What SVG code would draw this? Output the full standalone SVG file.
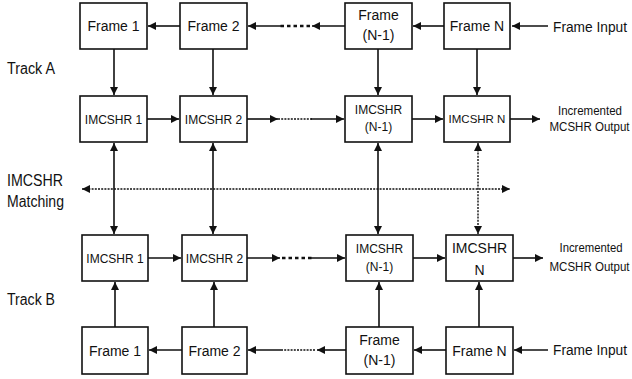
<svg xmlns="http://www.w3.org/2000/svg" width="632" height="379" viewBox="0 0 632 379">
<style>
text{font-family:"Liberation Sans",Arial,sans-serif;fill:#111;text-anchor:middle}
.box{fill:#fff;stroke:#111;stroke-width:1.6}
.f{font-size:14px}
.m{font-size:12px}
.s{font-size:11.5px}
.lab{font-size:16px;text-anchor:start}
.ln{stroke:#111;stroke-width:1.6;fill:none}
.dt{stroke:#111;stroke-width:1.4;fill:none;stroke-dasharray:2 1.2}
.bd{stroke:#111;stroke-width:2.6;fill:none;stroke-dasharray:3.5 3}
</style>
<defs>
<marker id="ah" viewBox="0 0 10 10" refX="10" refY="5" markerWidth="9" markerHeight="8" markerUnits="userSpaceOnUse" orient="auto-start-reverse">
<path d="M0,0 L10,5 L0,10 z" fill="#111"/>
</marker>
</defs>
<g id="labels">
<text class="lab" x="7" y="74" textLength="48" lengthAdjust="spacingAndGlyphs">Track A</text>
<text class="lab" x="7" y="186" textLength="56" lengthAdjust="spacingAndGlyphs">IMCSHR</text>
<text class="lab" x="7" y="207" textLength="57" lengthAdjust="spacingAndGlyphs">Matching</text>
<text class="lab" x="7" y="305" textLength="48" lengthAdjust="spacingAndGlyphs">Track B</text>
<text class="f" x="590" y="32" textLength="74" lengthAdjust="spacingAndGlyphs">Frame Input</text>
<text class="m" x="590" y="115" textLength="64" lengthAdjust="spacingAndGlyphs">Incremented</text>
<text class="m" x="589.5" y="131" textLength="80" lengthAdjust="spacingAndGlyphs">MCSHR Output</text>
<text class="m" x="591" y="252" textLength="63" lengthAdjust="spacingAndGlyphs">Incremented</text>
<text class="m" x="589.5" y="271" textLength="80" lengthAdjust="spacingAndGlyphs">MCSHR Output</text>
<text class="f" x="590" y="355" textLength="74" lengthAdjust="spacingAndGlyphs">Frame Input</text>
</g>
<g id="connectors">
<line class="ln" x1="548" y1="26" x2="512" y2="26" marker-end="url(#ah)"/>
<line class="ln" x1="444" y1="26" x2="413" y2="26" marker-end="url(#ah)"/>
<line class="ln" x1="345" y1="26" x2="312" y2="26" marker-end="url(#ah)"/>
<line class="bd" x1="310" y1="26" x2="280" y2="26"/>
<line class="ln" x1="281" y1="26" x2="248" y2="26" marker-end="url(#ah)"/>
<line class="ln" x1="180" y1="26" x2="148" y2="26" marker-end="url(#ah)"/>
<line class="ln" x1="114" y1="49" x2="114" y2="95" marker-end="url(#ah)"/>
<line class="ln" x1="213" y1="49" x2="213" y2="95" marker-end="url(#ah)"/>
<line class="ln" x1="378" y1="49" x2="378" y2="95" marker-end="url(#ah)"/>
<line class="ln" x1="477" y1="49" x2="477" y2="95" marker-end="url(#ah)"/>
<line class="ln" x1="147" y1="119" x2="179" y2="119" marker-end="url(#ah)"/>
<line class="ln" x1="247" y1="119" x2="278" y2="119" marker-end="url(#ah)"/>
<line class="dt" x1="278" y1="119" x2="312" y2="119"/>
<line class="ln" x1="311" y1="119" x2="344" y2="119" marker-end="url(#ah)"/>
<line class="ln" x1="412" y1="119" x2="443" y2="119" marker-end="url(#ah)"/>
<line class="ln" x1="510" y1="119" x2="540" y2="119" marker-end="url(#ah)"/>
<line class="dt" x1="82" y1="189" x2="510" y2="189" marker-start="url(#ah)" marker-end="url(#ah)"/>
<line class="ln" x1="114" y1="143" x2="114" y2="234" marker-start="url(#ah)" marker-end="url(#ah)"/>
<line class="ln" x1="213" y1="143" x2="213" y2="234" marker-start="url(#ah)" marker-end="url(#ah)"/>
<line class="ln" x1="378" y1="143" x2="378" y2="234" marker-start="url(#ah)" marker-end="url(#ah)"/>
<line class="dt" x1="478" y1="143" x2="478" y2="234" marker-start="url(#ah)" marker-end="url(#ah)"/>
<line class="ln" x1="148" y1="258" x2="181" y2="258" marker-end="url(#ah)"/>
<line class="ln" x1="247" y1="258" x2="280" y2="258" marker-end="url(#ah)"/>
<line class="bd" x1="282" y1="258" x2="312" y2="258"/>
<line class="ln" x1="310" y1="258" x2="345" y2="258" marker-end="url(#ah)"/>
<line class="ln" x1="413" y1="258" x2="445" y2="258" marker-end="url(#ah)"/>
<line class="ln" x1="513" y1="258" x2="543" y2="258" marker-end="url(#ah)"/>
<line class="ln" x1="115" y1="327" x2="115" y2="282" marker-end="url(#ah)"/>
<line class="ln" x1="214" y1="327" x2="214" y2="282" marker-end="url(#ah)"/>
<line class="ln" x1="379" y1="327" x2="379" y2="282" marker-end="url(#ah)"/>
<line class="ln" x1="479" y1="327" x2="479" y2="282" marker-end="url(#ah)"/>
<line class="ln" x1="548" y1="350" x2="514" y2="350" marker-end="url(#ah)"/>
<line class="ln" x1="446" y1="350" x2="414" y2="350" marker-end="url(#ah)"/>
<line class="ln" x1="346" y1="350" x2="317" y2="350" marker-end="url(#ah)"/>
<line class="dt" x1="315" y1="350" x2="280" y2="350"/>
<line class="ln" x1="281" y1="350" x2="248" y2="350" marker-end="url(#ah)"/>
<line class="ln" x1="182" y1="350" x2="149" y2="350" marker-end="url(#ah)"/>
</g>
<g id="a-frame1"><rect class="box" x="80" y="3" width="67" height="46"/><text class="f" x="113.5" y="31">Frame 1</text></g>
<g id="a-frame2"><rect class="box" x="180" y="3" width="67" height="46"/><text class="f" x="213.5" y="31">Frame 2</text></g>
<g id="a-frameN1"><rect class="box" x="345" y="3" width="67" height="46"/><text class="f" x="378.5" y="20">Frame</text><text class="f" x="378.5" y="40">(N-1)</text></g>
<g id="a-frameN"><rect class="box" x="444" y="3" width="66" height="46"/><text class="f" x="477" y="31">Frame N</text></g>
<g id="a-imcshr1"><rect class="box" x="80" y="96" width="67" height="46"/><text class="m" x="113.5" y="124">IMCSHR 1</text></g>
<g id="a-imcshr2"><rect class="box" x="180" y="96" width="67" height="46"/><text class="m" x="213.5" y="124">IMCSHR 2</text></g>
<g id="a-imcshrN1"><rect class="box" x="345" y="96" width="67" height="46"/><text class="m" x="378.5" y="114">IMCSHR</text><text class="m" x="378.5" y="131">(N-1)</text></g>
<g id="a-imcshrN"><rect class="box" x="444" y="96" width="66" height="46"/><text class="s" x="477" y="123">IMCSHR N</text></g>
<g id="b-imcshr1"><rect class="box" x="82" y="235" width="66" height="46"/><text class="m" x="115" y="263">IMCSHR 1</text></g>
<g id="b-imcshr2"><rect class="box" x="182" y="235" width="65" height="46"/><text class="m" x="214.5" y="263">IMCSHR 2</text></g>
<g id="b-imcshrN1"><rect class="box" x="346" y="235" width="67" height="46"/><text class="m" x="379.5" y="253">IMCSHR</text><text class="m" x="379.5" y="271">(N-1)</text></g>
<g id="b-imcshrN"><rect class="box" x="446" y="235" width="67" height="46"/><text class="f" x="479.5" y="253">IMCSHR</text><text class="f" x="479.5" y="275">N</text></g>
<g id="b-frame1"><rect class="box" x="82" y="327" width="66" height="47"/><text class="f" x="115" y="356">Frame 1</text></g>
<g id="b-frame2"><rect class="box" x="182" y="327" width="65" height="47"/><text class="f" x="214.5" y="356">Frame 2</text></g>
<g id="b-frameN1"><rect class="box" x="346" y="327" width="67" height="47"/><text class="f" x="379.5" y="345">Frame</text><text class="f" x="379.5" y="365">(N-1)</text></g>
<g id="b-frameN"><rect class="box" x="446" y="327" width="67" height="47"/><text class="f" x="479.5" y="356">Frame N</text></g>
</svg>
